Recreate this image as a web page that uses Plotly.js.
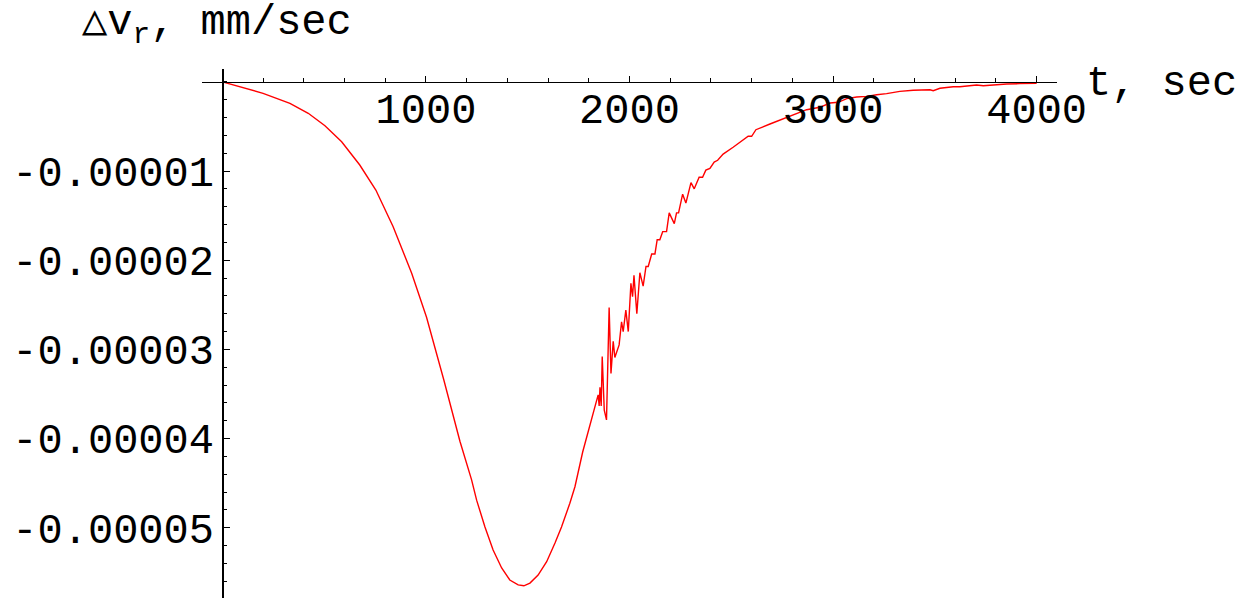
<!DOCTYPE html>
<html>
<head>
<meta charset="utf-8">
<script src="https://cdn.plot.ly/plotly-3.0.1.min.js"></script>
<style>
html, body { margin: 0; padding: 0; background: #ffffff; }
#chart { width: 1253px; height: 598px; }
</style>
</head>
<body>
<div id="chart"></div>
<script>
// time, sec
const t = [
  0, 200, 332, 422, 504, 586, 675, 754, 839, 930,
  1003, 1088, 1167, 1224, 1249, 1290, 1330, 1372, 1412, 1453,
  1481, 1511, 1551, 1593, 1634, 1666, 1707, 1732, 1770, 1838,
  1846, 1851, 1855, 1861, 1866, 1876, 1887, 1900,
  1909, 1920, 1928, 1949, 1961, 1969, 1982, 1994, 2007, 2015,
  2022, 2036, 2051, 2067, 2081, 2092, 2109, 2125, 2136, 2149,
  2163, 2182, 2195, 2220, 2231, 2241, 2261, 2277, 2302, 2318,
  2342, 2359, 2375, 2395, 2416, 2433, 2460, 2509, 2583, 2600,
  2621, 2690, 2772, 2870, 2935, 2985, 3025, 3067, 3116, 3165,
  3214, 3263, 3328, 3394, 3476, 3492, 3525, 3590, 3623, 3672,
  3705, 3738, 3771, 3811, 3853, 3918, 4000
];
// delta v_r, mm/sec
const dv = [
  0, -1.29e-6, -2.41e-6, -3.53e-6, -4.92e-6, -6.72e-6, -9.33e-6, -12.13e-6, -16.24e-6, -21.47e-6,
  -26.4e-6, -33.43e-6, -40.3e-6, -44.6e-6, -46.9e-6, -49.9e-6, -52.5e-6, -54.5e-6, -55.85e-6, -56.4e-6,
  -56.5e-6, -56.2e-6, -55.3e-6, -53.8e-6, -51.7e-6, -49.9e-6, -47.25e-6, -45.4e-6, -41.5e-6, -35.6e-6,
  -35.1e-6, -36.35e-6, -34.25e-6, -36.35e-6, -30.8e-6, -36.8e-6, -37.9e-6, -25.3e-6,
  -32.7e-6, -29.1e-6, -30.9e-6, -29.5e-6, -26.9e-6, -28.0e-6, -25.6e-6, -28.0e-6, -22.6e-6, -24.1e-6,
  -21.7e-6, -26.0e-6, -21.4e-6, -22.9e-6, -20.7e-6, -20.7e-6, -19.3e-6, -19.3e-6, -17.7e-6, -17.7e-6,
  -16.8e-6, -16.8e-6, -14.7e-6, -15.9e-6, -14.7e-6, -14.7e-6, -12.6e-6, -13.6e-6, -11.3e-6, -12.0e-6,
  -10.7e-6, -10.7e-6, -9.9e-6, -9.7e-6, -9.0e-6, -8.8e-6, -8.1e-6, -7.34e-6, -6.11e-6, -6.11e-6,
  -5.37e-6, -4.73e-6, -3.98e-6, -3.13e-6, -2.86e-6, -2.38e-6, -2.30e-6, -1.89e-6, -1.70e-6, -1.63e-6,
  -1.45e-6, -1.33e-6, -1.07e-6, -0.95e-6, -0.89e-6, -1.00e-6, -0.73e-6, -0.55e-6, -0.55e-6, -0.47e-6,
  -0.36e-6, -0.44e-6, -0.39e-6, -0.28e-6, -0.25e-6, -0.21e-6, -0.17e-6
];

const xTickVals = [1000, 2000, 3000, 4000];
const xTickText = ['1000', '2000', '3000', '4000'];
const yTickVals = [-0.00001, -0.00002, -0.00003, -0.00004, -0.00005];
const yTickText = ['-0.00001', '-0.00002', '-0.00003', '-0.00004', '-0.00005'];

const xRange = [-100, 4100];
const yRange = [-5.787e-5, 0.1435e-5];

const FONT = '"Liberation Mono", "Courier New", Courier, monospace';
const W = 1253, H = 598;
const M = { l: 202, r: 196, t: 69, b: 0 };
const PW = W - M.l - M.r, PH = H - M.t - M.b;
const px2x = px => (px - M.l) / PW;
const py2y = py => 1 - (py - M.t) / PH;

// axes cross at the origin
const xAxisPos = (0 - yRange[0]) / (yRange[1] - yRange[0]);
const yAxisPos = (0 - xRange[0]) / (xRange[1] - xRange[0]);

const trace = {
  x: t, y: dv, type: 'scatter', mode: 'lines',
  line: { color: '#ff0000', width: 1.4 },
  hoverinfo: 'skip'
};

const layout = {
  width: W, height: H,
  margin: { l: M.l, r: M.r, t: M.t, b: M.b, pad: 0 },
  paper_bgcolor: '#ffffff', plot_bgcolor: '#ffffff',
  showlegend: false,
  xaxis: {
    range: xRange, anchor: 'free', position: xAxisPos, side: 'bottom',
    showline: true, linecolor: '#000', linewidth: 1.2,
    showgrid: false, zeroline: false, automargin: false,
    tickmode: 'array', tickvals: xTickVals, ticktext: xTickText,
    ticks: 'inside', ticklen: 6, tickwidth: 1, tickcolor: '#000',
    ticklabelstandoff: -10,
    tickfont: { family: FONT, size: 42, color: '#000' },
    minor: { tickmode: 'linear', tick0: 0, dtick: 200, ticks: 'inside', ticklen: 3.5, tickwidth: 1, tickcolor: '#000', showgrid: false },
    fixedrange: true
  },
  yaxis: {
    range: yRange, anchor: 'free', position: yAxisPos, side: 'left',
    showline: true, linecolor: '#000', linewidth: 1.2,
    showgrid: false, zeroline: false, automargin: false,
    tickmode: 'array', tickvals: yTickVals, ticktext: yTickText,
    ticks: 'inside', ticklen: 6, tickwidth: 1, tickcolor: '#000',
    tickfont: { family: FONT, size: 42, color: '#000' },
    minor: { tickmode: 'linear', tick0: 0, dtick: 0.000002, ticks: 'inside', ticklen: 3.5, tickwidth: 1, tickcolor: '#000', showgrid: false },
    fixedrange: true
  },
  annotations: [
    {
      xref: 'paper', yref: 'paper', x: px2x(80), y: py2y(25),
      xanchor: 'left', yanchor: 'middle', showarrow: false,
      text: '△v<sub>r</sub>, mm/sec',
      font: { family: FONT, size: 42, color: '#000' }
    },
    {
      xref: 'paper', yref: 'paper', x: px2x(1084), y: py2y(84),
      xanchor: 'left', yanchor: 'middle', showarrow: false,
      text: 't, sec',
      font: { family: FONT, size: 42, color: '#000' }
    }
  ]
};

Plotly.newPlot('chart', [trace], layout, { displayModeBar: false, staticPlot: true });
</script>
</body>
</html>
